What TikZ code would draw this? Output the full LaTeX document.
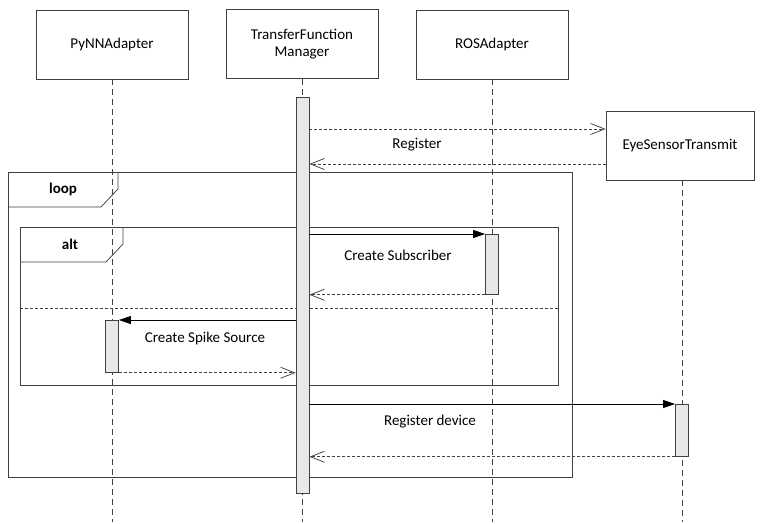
\documentclass[tikz,border=0pt]{standalone}
\usepackage{fontspec}
\setmainfont{Carlito}
\usetikzlibrary{arrows.meta}
\definecolor{linecol}{HTML}{404040}
\definecolor{barcol}{HTML}{E8E8E8}
\tikzset{
objbox/.style={draw=linecol, minimum height=69pt, inner sep=0pt, align=center},
actbar/.style={draw=linecol, fill=barcol, minimum width=13pt, inner sep=0pt, anchor=north},
lifeline/.style={draw=linecol, dash pattern=on 6pt off 4pt},
call/.style={draw=black, -{Triangle[length=12pt,width=8pt]}},
reply/.style={draw=linecol, dash pattern=on 3pt off 2pt, -{Straight Barb[length=14pt,width=11pt]}},
framebox/.style={draw=linecol},
}
\begin{document}
\begin{tikzpicture}[x=1pt, y=-1pt, font=\fontsize{15}{17}\selectfont, line width=0.75pt]
\useasboundingbox (0,0) rectangle (762,523);
\coordinate (bottom) at (0,522);

\node[objbox, minimum width=152pt] (pynn) at (112,44.5) {PyNNAdapter};
\node[objbox, minimum width=152pt] (tfm) at (302,44) {TransferFunction\\Manager};
\node[objbox, minimum width=152pt] (ros) at (492,44.5) {ROSAdapter};
\node[objbox, minimum width=148pt] (es) at (680,145.5) {EyeSensorTransmit};

\foreach \obj in {pynn,tfm,ros}
\draw[lifeline] (\obj.south) -- (\obj.south |- bottom);
\draw[lifeline] (es.south) ++(2,0) -- ++(0,342);

\draw[framebox] (8,172) rectangle (572,477);
\draw[framebox] (8,207) -- (101,207) -- (118,189) -- (118,172);
\node[font=\fontsize{15}{17}\selectfont\bfseries] (looplbl) at (63,189) {loop};

\draw[framebox] (20,227) rectangle (558,385);
\draw[framebox] (20,262) -- (106,262) -- (123,244) -- (123,227);
\node[font=\fontsize{15}{17}\selectfont\bfseries] (altlbl) at (70,244) {alt};
\draw[framebox, dash pattern=on 3pt off 2pt] (20,308) -- (558,308);

\node[actbar, minimum height=396pt] (tfbar) at (302.5,97) {};
\node[actbar, minimum height=60pt] (rosbar) at (492,234) {};
\node[actbar, minimum height=52pt] (pynnbar) at (112,320) {};
\node[actbar, minimum height=52pt] (esbar) at (682,404) {};

\draw[reply] (tfbar.east |- 0,129) -- ([yshift=16.5pt]es.west);
\draw[reply] ([yshift=-18.5pt]es.west) -- (tfbar.east |- 0,164);
\node (reg) at (417,145) {Register};

\draw[call] (tfbar.east |- rosbar.north) -- (rosbar.north west);
\draw[reply] (rosbar.south west) -- (tfbar.east |- rosbar.south);
\node (sub) at (398,255) {Create Subscriber};

\draw[call] (tfbar.west |- pynnbar.north) -- (pynnbar.north east);
\draw[reply] (pynnbar.south east) -- (tfbar.west |- pynnbar.south);
\node (spike) at (205,338) {Create Spike Source};

\draw[call] (tfbar.east |- esbar.north) -- (esbar.north west);
\draw[reply] (esbar.south west) -- (tfbar.east |- esbar.south);
\node (regdev) at (430,422) {Register device};
\end{tikzpicture}
\end{document}
